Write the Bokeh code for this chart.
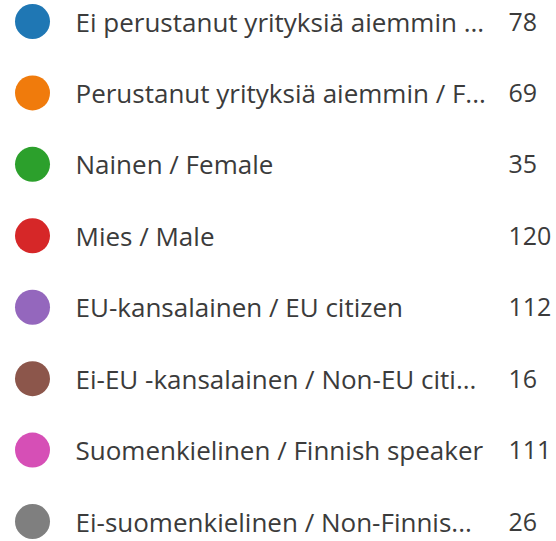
from bokeh.plotting import figure
from bokeh.models import ColumnDataSource, Range1d
from bokeh.core.properties import value
from bokeh.embed import file_html
from bokeh.resources import INLINE

labels = [
    "Ei perustanut yrityksiä aiemmin ...",
    "Perustanut yrityksiä aiemmin / F...",
    "Nainen / Female",
    "Mies / Male",
    "EU-kansalainen / EU citizen",
    "Ei-EU -kansalainen / Non-EU citi...",
    "Suomenkielinen / Finnish speaker",
    "Ei-suomenkielinen / Non-Finnis...",
]
counts = [78, 69, 35, 120, 112, 16, 111, 26]
colors = ["#1f77b4", "#f07b0c", "#2ca02c", "#d62728",
          "#9467bd", "#8c564b", "#d64fb6", "#7f7f7f"]

rows = list(range(len(labels)))
src = ColumnDataSource(dict(
    row=rows,
    label=labels,
    count=[str(c) for c in counts],
    color=colors,
    dot_x=[32] * len(rows),
    text_x=[75] * len(rows),
    num_x=[508] * len(rows),
))

W, H = 556, 541
p = figure(width=W, height=H, output_backend="svg", toolbar_location=None,
           x_range=Range1d(0, W), y_range=Range1d(start=7.28, end=-0.294),
           min_border=0, outline_line_color=None)
p.axis.visible = False
p.grid.visible = False
p.background_fill_color = "white"
p.border_fill_color = "white"

p.scatter(x="dot_x", y="row", source=src, size=35, marker="circle",
          fill_color="color", line_color=None)
p.text(x="text_x", y="row", text="label", source=src,
       text_font=value("Open Sans"), text_font_size="26px",
       text_color="#3b3b3b", text_baseline="middle", text_align="left")
p.text(x="num_x", y="row", text="count", source=src,
       text_font=value("Open Sans"), text_font_size="25px",
       text_color="#3b3b3b", text_baseline="middle", text_align="left")

open("out.html", "w").write(file_html(p, INLINE))
